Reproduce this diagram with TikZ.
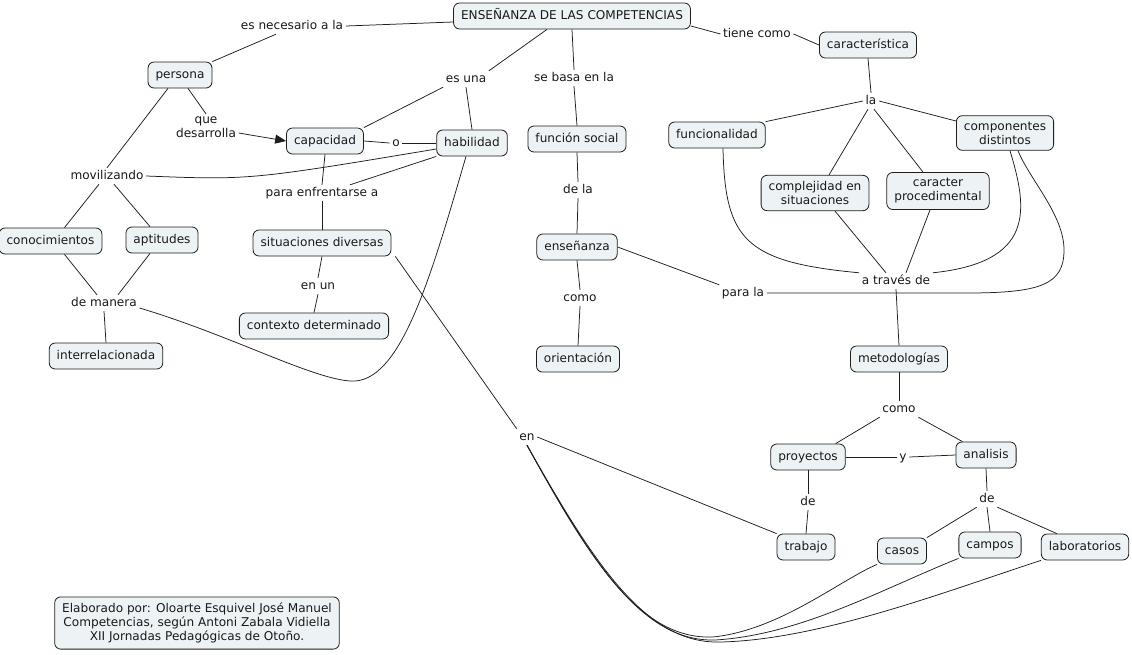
\documentclass[tikz,border=0pt]{standalone}
\usepackage{fontspec}
\usetikzlibrary{arrows.meta}
\newfontfamily\cfont{DejaVu Sans}
\definecolor{boxfill}{RGB}{237,243,245}
\definecolor{edgecol}{RGB}{30,30,30}
\begin{document}
\begin{tikzpicture}[x=1pt,y=-1pt,
  every node/.style={font=\cfont\fontsize{12.1}{14}\selectfont, text=black!90},
  concept/.style={draw=edgecol, line width=0.8pt, fill=boxfill, rounded corners=6pt,
    inner xsep=7.5pt, inner ysep=7pt, text height=9pt, text depth=3pt, align=center},
  concepttwo/.style={draw=edgecol, line width=0.8pt, fill=boxfill, rounded corners=6pt,
    inner xsep=7.5pt, inner ysep=6pt, align=center},
  lp/.style={inner sep=2.5pt, align=center, text height=8.5pt, text depth=2.5pt},
  lptwo/.style={inner sep=2.5pt, align=center},
  link/.style={draw=edgecol, line width=0.75pt}]
\useasboundingbox (0,0) rectangle (1132,654);
\fill[white] (0,0) rectangle (1132,654);

% concepts
\node[concept] (ens) at (572,16) {ENSEÑANZA DE LAS COMPETENCIAS};
\node[concept] (per) at (180,75) {persona};
\node[concept] (cap) at (325,141) {capacidad};
\node[concept] (hab) at (472,143) {habilidad};
\node[concept] (con) at (50.5,241) {conocimientos};
\node[concept] (apt) at (162,240) {aptitudes};
\node[concept] (sit) at (322,243) {situaciones diversas};
\node[concept] (ctx) at (314,326) {contexto determinado};
\node[concept] (int) at (106,356) {interrelacionada};
\node[concept] (fs) at (577,139) {función social};
\node[concept] (ensz) at (577,247) {enseñanza};
\node[concept] (ori) at (578,359) {orientación};
\node[concept] (car) at (868,45) {característica};
\node[concept] (fun) at (717,135) {funcionalidad};
\node[concepttwo] (comp) at (1005,133) {componentes\\distintos};
\node[concepttwo] (cpj) at (815,193) {complejidad en\\situaciones};
\node[concepttwo] (cp) at (938,191) {caracter\\procedimental};
\node[concept] (met) at (899,359) {metodologías};
\node[concept] (pro) at (808,457) {proyectos};
\node[concept] (ana) at (986,455) {analisis};
\node[concept] (tra) at (806,547) {trabajo};
\node[concept] (cas) at (902,551) {casos};
\node[concept] (cam) at (990,545) {campos};
\node[concept] (lab) at (1085,547) {laboratorios};
\node[concepttwo] (elab) at (197,623) {Elaborado por: Oloarte Esquivel José Manuel\\Competencias, según Antoni Zabala Vidiella\\XII Jornadas Pedagógicas de Otoño.};

% linking phrases
\node[lp] (nec) at (292,26) {es necesario a la};
\node[lptwo] (qd) at (206,127) {que\\desarrolla};
\node[lp] (o) at (396,143) {o};
\node[lp] (esuna) at (466,79) {es una};
\node[lp] (mov) at (107,176) {movilizando};
\node[lp] (pe) at (322,193) {para enfrentarse a};
\node[lp] (enun) at (318,286) {en un};
\node[lp] (dm) at (104,303) {de manera};
\node[lp] (sb) at (574,78) {se basa en la};
\node[lp] (dela) at (578,190) {de la};
\node[lp] (como1) at (580,298) {como};
\node[lp] (tc) at (757,34) {tiene como};
\node[lp] (la) at (871,101) {la};
\node[lp] (at) at (896,281) {a través de};
\node[lp] (pl) at (743,293) {para la};
\node[lp] (como2) at (899,409) {como};
\node[lp] (y) at (903,457) {y};
\node[lp] (de1) at (808,502) {de};
\node[lp] (de2) at (987,499) {de};
\node[lp] (en) at (527,437) {en};

% connectors
\draw[link] (nec.east) -- ([yshift=-6pt]ens.west);
\draw[link] ([xshift=-16pt]nec.south) -- (per.north east);
\draw[link] ([xshift=-25pt]ens.south) -- (esuna.north east);
\draw[link] (esuna.south west) -- (cap.north east);
\draw[link] (esuna.south) -- (hab.north);
\draw[link] (ens.south) -- (sb.north);
\draw[link] (sb.south) -- (fs.north);
\draw[link] ([yshift=-10pt]ens.east) -- (tc.west);
\draw[link] (tc.east) -- (car.west);
\draw[link] ([xshift=8pt]per.south) -- (qd.north);
\draw[link,-{Triangle[length=11pt,width=9pt]}] ([yshift=-6pt]qd.east) -- (cap.west);
\draw[link] ([xshift=-12pt]per.south) -- (mov.north);
\draw[link] (cap.east) -- (o.west);
\draw[link] (o.east) -- (hab.west);
\draw[link] ([yshift=-6pt]hab.west) .. controls (250,180) .. (mov.east);
\draw[link] (cap.south) -- (pe.north);
\draw[link] (hab.south west) -- ([xshift=28pt]pe.north);
\draw[link] (pe.south) -- (sit.north);
\draw[link] ([xshift=-8pt]mov.south) -- ([xshift=14pt]con.north);
\draw[link] ([xshift=7pt]mov.south) -- ([xshift=-12pt]apt.north);
\draw[link] ([xshift=14pt]con.south) -- ([xshift=-7pt]dm.north);
\draw[link] ([xshift=-12pt]apt.south) -- ([xshift=14pt]dm.north);
\draw[link] (dm.south) -- (int.north);
\draw[link] ([xshift=-6pt]hab.south) .. controls (430,280) and (400,385) .. (350,381)
   .. controls (310,378) and (230,335) .. ([yshift=-5pt]dm.east);
\draw[link] (sit.south) -- (enun.north);
\draw[link] (enun.south) -- (ctx.north);
\draw[link] ([xshift=4pt]sit.south east) -- (en.north west);
\draw[link] (en.east) -- (tra.north west);
\draw[link] (en.south) .. controls (590,560) and (640,640) .. (713,637)
   .. controls (780,630) and (840,580) .. (cas.south west);
\draw[link] (en.south) .. controls (592,562) and (642,642) .. (715,640)
   .. controls (800,635) and (880,590) .. (cam.south west);
\draw[link] (en.south) .. controls (594,564) and (646,644) .. (720,642)
   .. controls (820,640) and (950,590) .. (lab.south west);
\draw[link] (fs.south) -- (dela.north);
\draw[link] (dela.south) -- (ensz.north);
\draw[link] (ensz.south) -- (como1.north);
\draw[link] (como1.south) -- (ori.north);
\draw[link] (ensz.east) -- (pl.north west);
\draw[link] (pl.east) -- (966,293) .. controls (1040,293) and (1064,285) .. (1064,250)
   .. controls (1064,215) and (1030,180) .. ([xshift=13pt]comp.south);
\draw[link] ([xshift=5pt]comp.south) .. controls (1028,210) and (1035,262) .. (at.north east);
\draw[link] ([xshift=6pt]fun.south) .. controls (725,240) and (745,262) .. (at.north west);
\draw[link] ([xshift=20pt]cpj.south) -- ([xshift=-10pt]at.north);
\draw[link] ([xshift=-8pt]cp.south) -- ([xshift=10pt]at.north);
\draw[link] (at.south) -- (met.north);
\draw[link] (car.south) -- (la.north);
\draw[link] (la.west) -- (fun.north east);
\draw[link] ([xshift=-3pt]la.south) -- ([xshift=14pt]cpj.north);
\draw[link] ([xshift=3pt]la.south) -- ([xshift=-15pt]cp.north);
\draw[link] (la.east) -- ([yshift=12pt]comp.west);
\draw[link] (met.south) -- (como2.north);
\draw[link] (como2.south west) -- ([xshift=-10pt]pro.north east);
\draw[link] (como2.south east) -- ([xshift=7pt]ana.north west);
\draw[link] (pro.east) -- (y.west);
\draw[link] (y.east) -- (ana.west);
\draw[link] (pro.south) -- (de1.north);
\draw[link] (de1.south) -- (tra.north);
\draw[link] (ana.south) -- (de2.north);
\draw[link] (de2.south west) -- (cas.north east);
\draw[link] (de2.south) -- (cam.north);
\draw[link] (de2.south east) -- ([xshift=16pt]lab.north west);
\end{tikzpicture}
\end{document}
